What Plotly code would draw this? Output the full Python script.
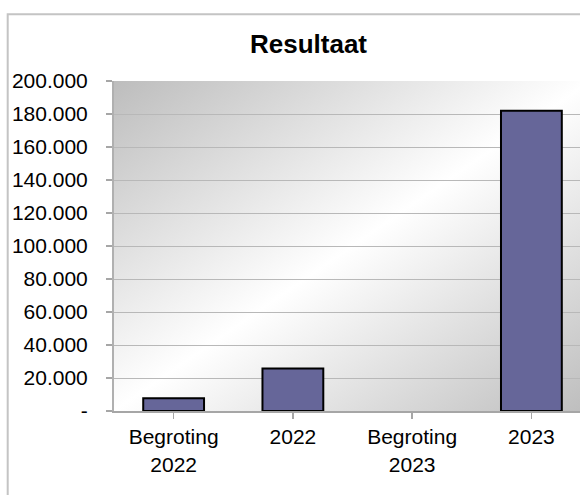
import base64
import plotly.graph_objects as go

categories = ["Begroting<br>2022", "2022", "Begroting<br>2023", "2023"]
values = [7700, 25800, None, 182000]
tick_vals = [0, 20000, 40000, 60000, 80000, 100000, 120000, 140000, 160000, 180000, 200000]
tick_text = ["-", "20.000", "40.000", "60.000", "80.000", "100.000", "120.000",
             "140.000", "160.000", "180.000", "200.000"]

W, H = 580, 495
L, T, B = 114, 81, 84
plot_w = W - L  # 466 visible
full_w = 477    # full plot width (partially cut off on the right)

svg = ('<svg xmlns="http://www.w3.org/2000/svg" width="477" height="330" '
       'preserveAspectRatio="none" viewBox="0 0 477 330">'
       '<defs><linearGradient id="g" x1="0" y1="0" x2="1" y2="1">'
       '<stop offset="0" stop-color="#bdbdbd"/>'
       '<stop offset="0.5" stop-color="#ffffff"/>'
       '<stop offset="1" stop-color="#bdbdbd"/>'
       '</linearGradient></defs>'
       '<rect x="0" y="0" width="477" height="330" fill="url(#g)"/></svg>')
src = "data:image/svg+xml;base64," + base64.b64encode(svg.encode()).decode()

font = "Liberation Sans, Arial, sans-serif"

fig = go.Figure(go.Bar(
    x=list(range(len(categories))), y=values,
    marker=dict(color="#666699", line=dict(color="#000000", width=2)),
    hoverinfo="skip",
))

cut = 3.5 - (full_w - plot_w) / 119.0

fig.update_layout(
    width=W, height=H,
    margin=dict(l=L, r=0, t=T, b=B, pad=0),
    paper_bgcolor="white",
    plot_bgcolor="rgba(0,0,0,0)",
    bargap=0.49,
    showlegend=False,
    hovermode=False,
    font=dict(family=font, size=21, color="#000000"),
    title=dict(text="<b>Resultaat</b>", font=dict(family=font, size=26, color="#000000"),
               x=308.5 / W, xref="container", xanchor="center",
               y=1 - 44 / H, yref="container", yanchor="middle"),
    images=[dict(source=src, xref="paper", yref="paper", x=0, y=1,
                 sizex=full_w / plot_w, sizey=1, sizing="stretch",
                 xanchor="left", yanchor="top", layer="below")],
    shapes=[dict(type="rect", xref="paper", yref="paper",
                 x0=(7.7 - L) / plot_w, x1=1.2,
                 y0=-0.5, y1=1 + (T - 14.3) / 330,
                 line=dict(color="#c4c4c4", width=2), fillcolor="rgba(0,0,0,0)",
                 layer="below")],
    xaxis=dict(
        range=[-0.5, cut], tickmode="array",
        tickvals=list(range(len(categories))), ticktext=categories,
        tickson="boundaries", ticks="outside", ticklen=6, tickcolor="#a6a6a6",
        tickwidth=1.5,
        showline=True, linecolor="#a6a6a6", linewidth=2,
        showgrid=False, zeroline=False, fixedrange=True,
        tickfont=dict(family=font, size=21),
    ),
    yaxis=dict(
        range=[0, 200000], tickmode="array", tickvals=tick_vals, ticktext=tick_text,
        ticks="outside", ticklen=6, tickcolor="#a6a6a6", tickwidth=1.5,
        showline=True, linecolor="#b0b0b0", linewidth=2,
        showgrid=True, gridcolor="#b8b8b8", gridwidth=1,
        zeroline=False, ticklabelstandoff=14, fixedrange=True,
        tickfont=dict(family=font, size=21),
    ),
)

fig.write_html("out.html",
               config={"displayModeBar": False, "staticPlot": True},
               post_script="document.body.style.margin='0';document.body.style.overflow='hidden';")
